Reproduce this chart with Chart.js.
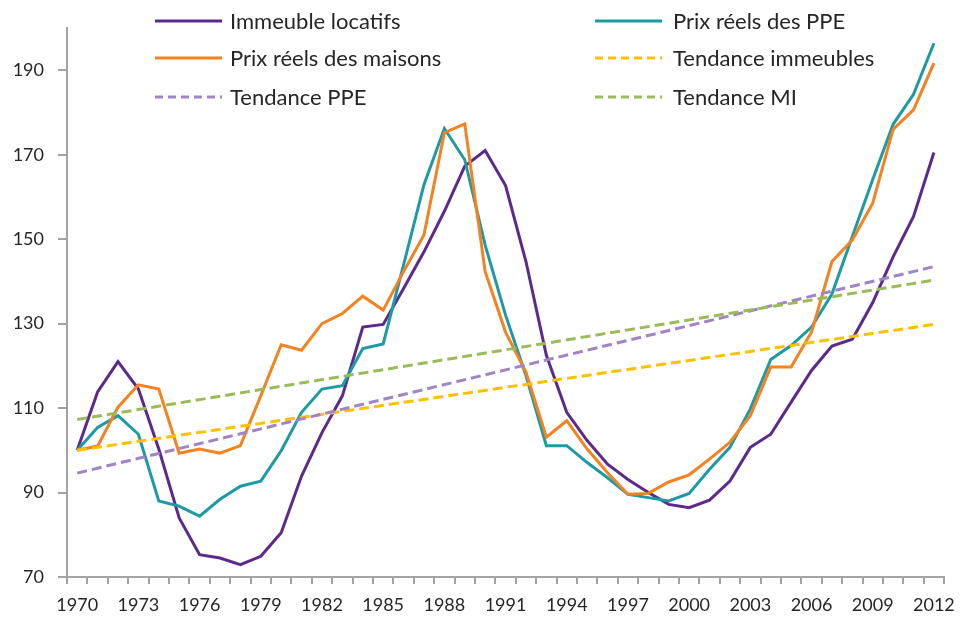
<!DOCTYPE html>
<html>
<head>
<meta charset="utf-8">
<title>Prix réels</title>
<script src="https://cdn.jsdelivr.net/npm/chart.js@4/dist/chart.umd.min.js"></script>
<style>
    body { margin: 0; background: #fff; }
    #grafico-wrap { width: 965px; height: 618px; position: relative; }
</style>
</head>
<body>
<div id="grafico-wrap"><canvas id="line-chart"></canvas></div>
<script>
var annees = ['1970', '1971', '1972', '1973', '1974', '1975', '1976', '1977', '1978', '1979',
    '1980', '1981', '1982', '1983', '1984', '1985', '1986', '1987', '1988', '1989',
    '1990', '1991', '1992', '1993', '1994', '1995', '1996', '1997', '1998', '1999',
    '2000', '2001', '2002', '2003', '2004', '2005', '2006', '2007', '2008', '2009',
    '2010', '2011', '2012'];

var immeubleLocatifs = [100, 113.8, 121.0, 114.5, 100.3, 84.0, 75.3, 74.5, 72.9, 74.9,
    80.5, 93.9, 104.2, 112.9, 129.2, 129.8, 138.3, 147.0, 156.6, 167.3,
    171.0, 162.7, 144.7, 122.5, 109.0, 102.3, 96.7, 93.1, 90.0, 87.2,
    86.4, 88.2, 92.7, 100.7, 103.8, 111.4, 118.9, 124.7, 126.3, 135.0,
    145.8, 155.4, 170.5];

var prixPPE = [100, 105.4, 108.2, 103.8, 88.0, 86.8, 84.4, 88.4, 91.5, 92.7,
    99.9, 109.0, 114.5, 115.3, 124.1, 125.2, 143.9, 162.9, 176.2, 168.8,
    148.6, 132.0, 117.7, 101.1, 101.1, 97.1, 93.5, 89.6, 88.8, 88.0,
    89.8, 95.5, 100.7, 109.8, 121.5, 124.8, 129.2, 137.0, 150.6, 164.1,
    177.2, 184.3, 196.4];

var prixMaisons = [100, 101.0, 110.2, 115.5, 114.5, 99.3, 100.3, 99.3, 101.1, 112.9,
    125.0, 123.7, 130.0, 132.4, 136.5, 133.2, 142.3, 151.0, 175.2, 177.3,
    142.3, 128.0, 118.5, 103.1, 107.0, 100.3, 94.7, 89.6, 89.8, 92.5,
    94.2, 97.9, 101.9, 108.2, 119.7, 119.7, 128.0, 144.7, 149.8, 158.5,
    176.0, 180.6, 191.7];

// tendances : valeurs lues aux deux extremites
var anneesTendance = ['1970', '2012'];
var tendanceImmeubles = [100, 129.8];
var tendancePPE = [94.6, 143.5];
var tendanceMI = [107.3, 140.3];

var ticksY = [70, 90, 110, 130, 150, 170, 190];

function serieTendance(valeurs) {
    var pts = [];
    for (var i in valeurs) {
        pts.push({ x: anneesTendance[i], y: valeurs[i] });
    }
    return pts;
}

function ligne(label, data, couleur, pointille, ordre) {
    return {
        label: label,
        data: data,
        borderColor: couleur,
        backgroundColor: couleur,
        borderWidth: 3,
        borderDash: pointille ? [10, 5] : [],
        borderCapStyle: 'butt',
        pointRadius: 0,
        tension: 0,
        spanGaps: true,
        fill: false,
        order: ordre
    };
}

// legende dessinee a la main, sur deux colonnes dans la zone du graphe
var legendePlugin = {
    id: 'legendeDeuxColonnes',
    afterDraw: function (chart) {
        var ctx = chart.ctx;
        var colLigne = [155, 595];
        var colTexte = [230, 673];
        var lignesY = [21, 58, 97];
        ctx.save();
        ctx.font = '22px Lato';
        ctx.textBaseline = 'middle';
        ctx.fillStyle = '#262626';
        chart.data.datasets.forEach(function (ds, i) {
            var c = i % 2;
            var r = Math.floor(i / 2);
            var y = lignesY[r];
            ctx.beginPath();
            ctx.strokeStyle = ds.borderColor;
            ctx.lineWidth = 3;
            ctx.setLineDash(ds.borderDash.length ? [8, 5] : []);
            ctx.moveTo(colLigne[c], y);
            ctx.lineTo(colLigne[c] + 67, y);
            ctx.stroke();
            ctx.setLineDash([]);
            ctx.fillText(ds.label, colTexte[c], y + 1);
        });
        ctx.restore();
    }
};

var couleurAxe = '#a3a3a3';

new Chart(document.getElementById('line-chart'), {
    type: 'line',
    data: {
        labels: annees,
        datasets: [
            ligne('Immeuble locatifs', immeubleLocatifs, '#5c2a8c', false, 5),
            ligne('Prix réels des PPE', prixPPE, '#1c9ba6', false, 4),
            ligne('Prix réels des maisons', prixMaisons, '#f5821f', false, 3),
            ligne('Tendance immeubles', serieTendance(tendanceImmeubles), '#ffc000', true, 2),
            ligne('Tendance PPE', serieTendance(tendancePPE), '#a184c6', true, 1),
            ligne('Tendance MI', serieTendance(tendanceMI), '#9bbb59', true, 0)
        ]
    },
    options: {
        responsive: true,
        maintainAspectRatio: false,
        animation: false,
        layout: {
            padding: { left: 0, top: 28, right: 17, bottom: 0 }
        },
        plugins: {
            legend: { display: false },
            tooltip: { enabled: false }
        },
        scales: {
            x: {
                type: 'category',
                offset: true,
                grid: {
                    offset: true,
                    drawOnChartArea: false,
                    color: couleurAxe,
                    lineWidth: 2,
                    tickLength: 7
                },
                border: { color: couleurAxe, width: 2 },
                ticks: {
                    autoSkip: false,
                    maxRotation: 0,
                    padding: 10,
                    color: '#262626',
                    font: { family: 'Lato', size: 18 },
                    callback: function (val, index) {
                        return index % 3 === 0 ? annees[index] : '';
                    }
                },
                afterFit: function (scale) {
                    scale.height = 41;
                }
            },
            y: {
                min: 70,
                max: 200,
                grid: {
                    drawOnChartArea: false,
                    color: couleurAxe,
                    lineWidth: 2,
                    tickLength: 9
                },
                border: { color: couleurAxe, width: 2 },
                ticks: {
                    padding: 14,
                    color: '#262626',
                    font: { family: 'Lato', size: 18 }
                },
                afterBuildTicks: function (scale) {
                    scale.ticks = ticksY.map(function (v) { return { value: v }; });
                },
                afterFit: function (scale) {
                    scale.width = 67;
                }
            }
        }
    },
    plugins: [legendePlugin]
});
</script>
</body>
</html>
